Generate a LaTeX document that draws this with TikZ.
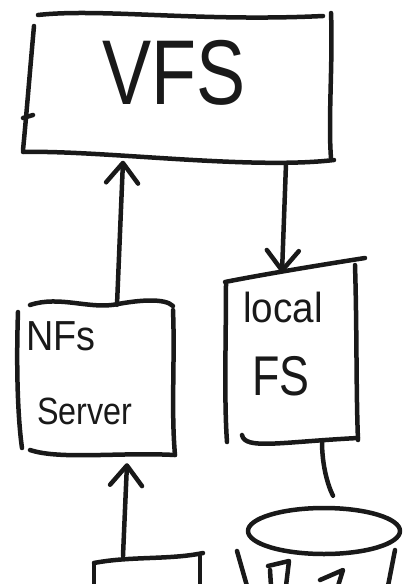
\documentclass[tikz,border=0pt]{standalone}
\usepackage{fontspec}
\setmainfont{Liberation Sans}
\usetikzlibrary{arrows.meta,shapes.geometric}

\tikzset{
  pen/.style={line width=4.5pt, line cap=round, line join=round, black!90},
  boxarea/.style={draw=none, rectangle, inner sep=0pt},
  label/.style={anchor=base west, inner sep=0pt, black!90},
  link/.style={pen, -{Straight Barb[round, length=20pt, width=32pt]}},
}

\begin{document}
\begin{tikzpicture}[x=1pt, y=-1pt]
  \useasboundingbox (0,0) rectangle (408,584);

  % --- VFS box ---
  \node[boxarea, minimum width=305pt, minimum height=145pt] (vfs) at (178,88) {};
  \draw[pen] (38,15) .. controls (100,8) and (200,22) .. (323,16);
  \draw[pen] (331,13) .. controls (333,60) and (328,120) .. (331,158);
  \draw[pen] (23,152) .. controls (100,150) and (250,170) .. (334,160);
  \draw[pen] (34,26) .. controls (30,70) and (26,120) .. (23,150);
  \draw[pen] (23,118) -- (33,115);
  \node[label, font=\fontsize{92}{92}\selectfont, xscale=0.8] (vfst) at (102,104) {VFS};

  % --- NFS server box ---
  \node[boxarea, minimum width=150pt, minimum height=150pt] (nfs) at (100,380) {};
  \draw[pen] (30,305) .. controls (60,295) and (90,310) .. (118,304)
                      .. controls (140,300) and (165,298) .. (173,306);
  \draw[pen] (173,310) .. controls (175,360) and (171,410) .. (175,455);
  \draw[pen] (30,450) .. controls (60,460) and (120,452) .. (175,455);
  \draw[pen] (18,312) .. controls (16,370) and (18,420) .. (22,448);
  \node[label, font=\fontsize{42}{42}\selectfont, xscale=0.9] (nfst1) at (26,350) {NFs};
  \node[label, font=\fontsize{38}{38}\selectfont, xscale=0.85] (nfst2) at (37,424) {Server};

  % --- local FS box ---
  \node[boxarea, minimum width=135pt, minimum height=170pt] (local) at (292,356) {};
  \draw[pen] (225,282) .. controls (260,275) and (320,265) .. (365,258);
  \draw[pen] (355,265) .. controls (357,330) and (356,390) .. (358,440);
  \draw[pen] (242,435) .. controls (245,450) and (280,442) .. (358,438);
  \draw[pen] (226,284) .. controls (226,340) and (224,400) .. (227,442);
  \node[label, font=\fontsize{42}{42}\selectfont, xscale=0.92] (localt1) at (243,322) {local};
  \node[label, font=\fontsize{56}{56}\selectfont, xscale=0.8] (localt2) at (252,395) {FS};

  % --- storage disk ---
  \node[pen, draw, ellipse, minimum width=152pt, minimum height=46pt] (disk) at (324,531) {};
  \draw[pen] (237,551) -- (247,586);
  \draw[pen] (395,550) -- (388,586);
  \draw[pen] (270,570) -- (271,586);
  \draw[pen] (268,566) -- (289,561) -- (286,586);
  \draw[pen] (320,580) -- (343,570) -- (338,586);

  % --- client box (partly visible) ---
  \node[boxarea, minimum width=110pt, minimum height=40pt] (client) at (148,578) {};
  \draw[pen] (94,563) .. controls (130,556) and (170,560) .. (203,553);
  \draw[pen] (94,563) -- (94,590);
  \draw[pen] (200,556) -- (200,590);

  % --- connectors ---
  \draw[link] ([xshift=17pt]nfs.north) -- ([xshift=-55pt]vfs.south);
  \draw[link] ([xshift=108pt,yshift=-3pt]vfs.south) -- ([xshift=-10pt,yshift=-2pt]local.north);
  \draw[link] ([xshift=-25pt,yshift=2pt]client.north) -- ([xshift=27pt,yshift=-8pt]nfs.south);
  \draw[pen] ([xshift=30pt]local.south) .. controls +(0,25) and +(-5,-10) .. ([xshift=9pt,yshift=10pt]disk.north);
\end{tikzpicture}
\end{document}
